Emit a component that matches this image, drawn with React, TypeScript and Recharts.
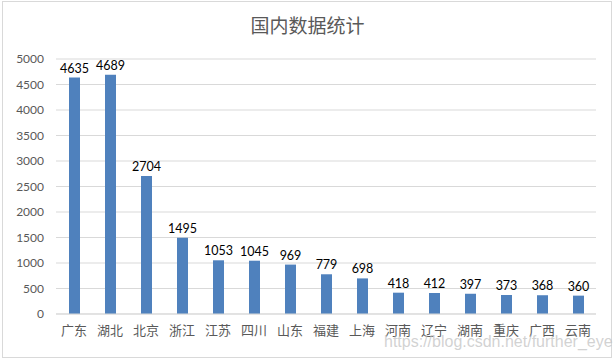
import { Bar, BarChart, CartesianGrid, LabelList, XAxis, YAxis } from "recharts";

const provinces = ["广东", "湖北", "北京", "浙江", "江苏", "四川", "山东", "福建", "上海", "河南", "辽宁", "湖南", "重庆", "广西", "云南"];
const counts = [4635, 4689, 2704, 1495, 1053, 1045, 969, 779, 698, 418, 412, 397, 373, 368, 360];
const yTicks = [0, 500, 1000, 1500, 2000, 2500, 3000, 3500, 4000, 4500, 5000];

const data = provinces.map((name, i) => ({ name, value: counts[i] }));

const font = "Lato, 'Noto Sans CJK SC', sans-serif";

export default function App() {
  return (
    <div
      style={{
        position: "absolute",
        left: 0,
        top: 0,
        width: 615,
        height: 362,
        background: "#fff",
        fontFamily: font,
      }}
    >
      <div
        style={{
          position: "absolute",
          left: 2,
          top: 1,
          width: 610,
          height: 357,
          border: "1px solid #d9d9d9",
          boxSizing: "border-box",
        }}
      />
      <div
        style={{
          position: "absolute",
          left: 0,
          top: 11,
          width: 615,
          textAlign: "center",
          fontSize: 19,
          color: "#595959",
        }}
      >
        国内数据统计
      </div>
      <div style={{ position: "absolute", left: 0, top: 0 }}>
        <BarChart
          width={615}
          height={362}
          data={data}
          margin={{ top: 59, right: 19, bottom: 0, left: 0 }}
          barCategoryGap={0}
        >
          <CartesianGrid vertical={false} stroke="#d9d9d9" />
          <XAxis
            dataKey="name"
            height={48}
            tickLine={false}
            tickSize={0}
            tickMargin={12}
            axisLine={{ stroke: "#d9d9d9" }}
            tick={{ fill: "#595959", fontSize: 13, fontFamily: font }}
            interval={0}
          />
          <YAxis
            width={56}
            domain={[0, 5000]}
            ticks={yTicks}
            axisLine={false}
            tickLine={false}
            tickSize={0}
            tickMargin={12}
            tick={{ fill: "#595959", fontSize: 12, fontFamily: font }}
          />
          <Bar dataKey="value" fill="#4f81bd" barSize={11} isAnimationActive={false}>
            <LabelList
              dataKey="value"
              position="top"
              offset={5}
              style={{ fill: "#000", fontSize: 12.5, fontFamily: font }}
            />
          </Bar>
        </BarChart>
      </div>
      <div
        style={{
          position: "absolute",
          left: 384,
          top: 333,
          fontSize: 16,
          color: "rgba(190,190,190,0.7)",
          fontFamily: "'Liberation Sans', sans-serif",
        }}
      >
        https://blog.csdn.net/further_eye
      </div>
    </div>
  );
}
